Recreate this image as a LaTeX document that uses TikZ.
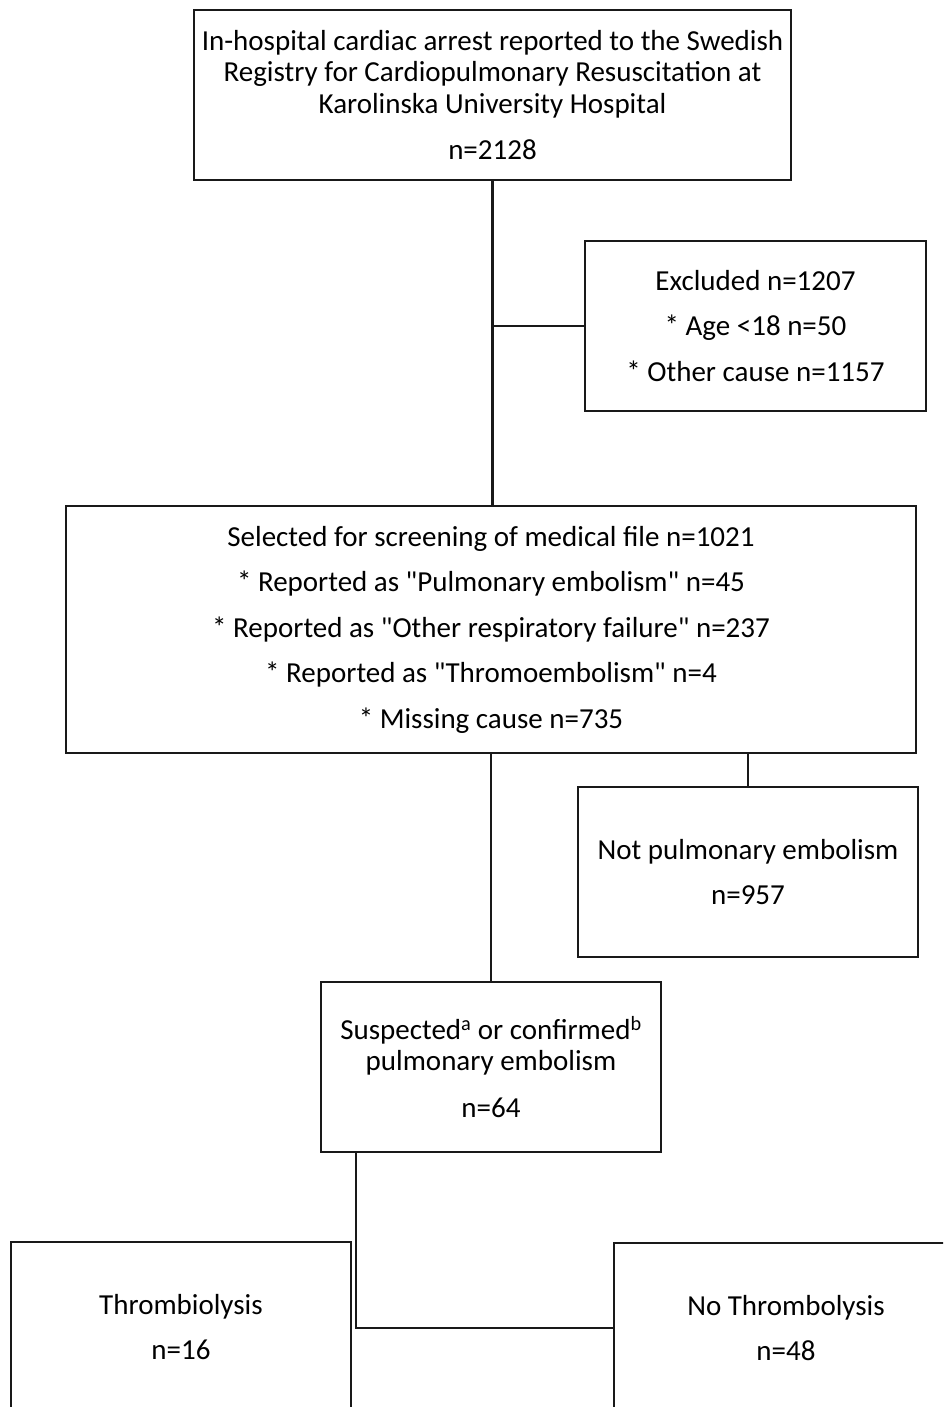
\documentclass[tikz,border=0pt]{standalone}
\usepackage{fontspec}
\setmainfont{Carlito}[Ligatures=TeXOff]
\begin{document}
\begin{tikzpicture}[x=1pt,y=-1pt,
  box/.style={draw=black!90, line width=2.2pt, align=center, inner sep=0pt, font=\fontsize{29}{31.5}\selectfont},
  link/.style={draw=black!90, line width=2.2pt}]
\useasboundingbox (0,0) rectangle (943,1407);
\clip (0,0) rectangle (943,1407);
\fill[white] (0,0) rectangle (943,1407);
\node[box, minimum width=597, minimum height=170] (top) at (492.5,95)
  {In-hospital cardiac arrest reported to the Swedish\\Registry for Cardiopulmonary Resuscitation at\\Karolinska University Hospital\\[15pt]n=2128};
\node[box, minimum width=341, minimum height=170] (excl) at (755.5,326)
  {Excluded n=1207\\[14pt]* Age <18 n=50\\[14pt]* Other cause n=1157};
\node[box, minimum width=850, minimum height=247] (sel) at (491,629.5)
  {Selected for screening of medical file n=1021\\[14pt]* Reported as "Pulmonary embolism" n=45\\[14pt]* Reported as "Other respiratory failure" n=237\\[14pt]* Reported as "Thromoembolism" n=4\\[14pt]* Missing cause n=735};
\node[box, minimum width=340, minimum height=170] (notpe) at (748,872)
  {Not pulmonary embolism\\[14pt]n=957};
\node[box, minimum width=340, minimum height=170] (susp) at (491,1067)
  {Suspected\textsuperscript{a} or confirmed\textsuperscript{b}\\pulmonary embolism\\[15pt]n=64};
\node[box, minimum width=340, minimum height=170] (thr) at (181,1327)
  {Thrombiolysis\\[14pt]n=16};
\node[box, minimum width=344, minimum height=170] (nothr) at (786,1328)
  {No Thrombolysis\\[14pt]n=48};
\draw[link] (top.south) -- (top.south |- sel.north);
\draw[link] (top.south |- excl.west) -- (excl.west);
\draw[link] (sel.south -| susp.north) -- (susp.north);
\draw[link] (sel.south -| notpe.north) -- (notpe.north);
\coordinate (split) at ([xshift=4pt]thr.east |- susp.south);
\draw[link] (split) -- (split |- nothr.west) -- (nothr.west);
\end{tikzpicture}
\end{document}
